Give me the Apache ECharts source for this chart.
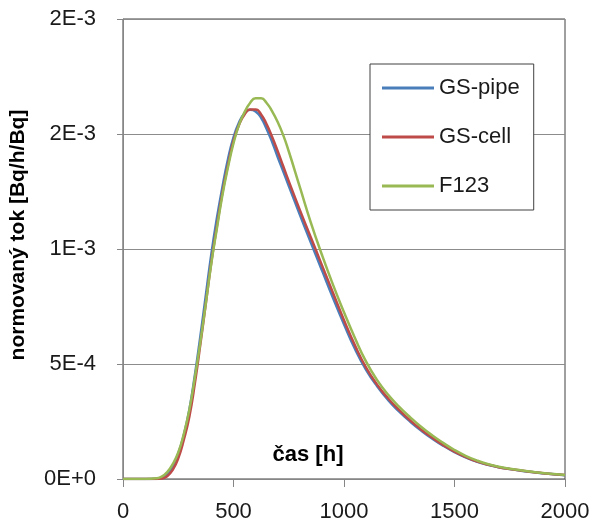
<!DOCTYPE html>
<html>
<head>
<meta charset="utf-8">
<script src="https://cdn.jsdelivr.net/npm/echarts@6/dist/echarts.min.js"></script>
<style>
html,body{margin:0;padding:0;background:#fff}
#container{width:600px;height:526px}
</style>
</head>
<body>
<div id="container"></div>
<script>
// time axis [h] (denser around the peak)
var hours = [0,50,100,150,175,200,225,250,275,300,325,350,375,400,425,450,475,500,525,550,575,600,625,650,675,700,725,750,
  800,850,900,950,1000,1050,1100,1150,1200,1250,1300,1350,1400,1450,1500,1550,1600,1650,1700,1750,1800,1850,1900,1950,2000];

// normovany tok, in units of 1E-4 Bq/h/Bq
var gsPipe = [0,0,0,0.01,0.06,0.2,0.55,1.1,1.9,3.0,4.5,6.2,8.0,9.8,11.35,12.7,13.9,14.85,15.5,15.9,16.05,15.98,15.7,15.22,14.65,14.0,13.38,12.75,
  11.5,10.28,9.08,7.88,6.73,5.65,4.75,4.03,3.43,2.93,2.49,2.1,1.75,1.44,1.17,0.94,0.76,0.62,0.51,0.43,0.36,0.3,0.25,0.205,0.165];
var gsCell = [0,0,0,0,0.02,0.12,0.4,0.9,1.7,2.7,4.15,5.85,7.65,9.45,11.0,12.45,13.65,14.7,15.4,15.85,16.06,16.06,15.85,15.42,14.87,14.25,13.6,12.95,
  11.7,10.5,9.3,8.1,6.9,5.8,4.84,4.1,3.5,2.99,2.54,2.14,1.79,1.47,1.19,0.96,0.77,0.63,0.515,0.435,0.365,0.305,0.255,0.21,0.17];
var f123 = [0,0,0,0.03,0.1,0.3,0.65,1.15,1.95,3.0,4.4,5.95,7.65,9.4,10.9,12.35,13.55,14.6,15.4,15.95,16.35,16.55,16.55,16.35,15.98,15.52,14.95,14.25,
  12.7,11.15,9.75,8.45,7.25,6.12,5.1,4.3,3.66,3.14,2.68,2.26,1.89,1.56,1.26,1.01,0.81,0.65,0.535,0.45,0.38,0.315,0.26,0.215,0.175];
var valueUnit = 1e-4;

var seriesNames = ['GS-pipe','GS-cell','F123'];
var xTickLabels = ['0','500','1000','1500','2000'];
var yTickLabels = ['0E+0','5E-4','1E-3','2E-3','2E-3'];

function pairs(vals){
  return hours.map(function(h,i){ return [h, vals[i] * valueUnit]; });
}

var FONT = 'Liberation Sans';

var dom = document.getElementById("container");
var myChart = echarts.init(dom);
var option = {
    animation: false,
    textStyle: { fontFamily: FONT },
    grid: {
        left: 122, right: 35, top: 19, bottom: 47,
        show: true, borderColor: '#404040', borderWidth: 1
    },
    legend: {
        orient: 'vertical',
        left: 370, top: 64,
        padding: [13, 14, 13, 12],
        icon: 'rect',
        itemWidth: 52, itemHeight: 3, itemGap: 27,
        backgroundColor: '#fff',
        borderColor: '#404040', borderWidth: 1, borderRadius: 0,
        textStyle: { fontFamily: FONT, fontSize: 22, color: '#1a1a1a', lineHeight: 22 },
        data: seriesNames
    },
    xAxis: {
        type: 'value',
        min: 0, max: 2000, interval: 500,
        name: 'čas [h]',
        nameLocation: 'middle',
        nameGap: -35,
        nameTextStyle: { fontFamily: FONT, fontSize: 22, fontWeight: 'bold', color: '#000', padding: [0, 72, 0, 0] },
        axisLine: { lineStyle: { color: '#868686' } },
        axisTick: { show: true, length: 8, lineStyle: { color: '#868686' } },
        axisLabel: {
            fontFamily: FONT, fontSize: 22, color: '#1a1a1a', margin: 22,
            formatter: function(v, i){ return xTickLabels[i]; }
        },
        splitLine: { show: false }
    },
    yAxis: {
        type: 'value',
        min: 0, max: 0.002, interval: 0.0005,
        name: 'normovaný tok [Bq/h/Bq]',
        nameLocation: 'middle',
        nameGap: 94,
        nameRotate: 90,
        nameTextStyle: { fontFamily: FONT, fontSize: 21, fontWeight: 'bold', color: '#000', padding: [0, 0, 0, 28] },
        axisLine: { show: true, lineStyle: { color: '#868686' } },
        axisTick: { show: true, length: 6, lineStyle: { color: '#868686' } },
        axisLabel: {
            fontFamily: FONT, fontSize: 22, color: '#1a1a1a', margin: 27,
            formatter: function(v, i){ return yTickLabels[i]; }
        },
        splitLine: { show: true, lineStyle: { color: '#8c8c8c', width: 1 } }
    },
    series: [
        { name: seriesNames[0], type: 'line', data: pairs(gsPipe), symbol: 'none', smooth: 0.5,
          lineStyle: { color: '#4a7ebb', width: 2.5 }, itemStyle: { color: '#4a7ebb' } },
        { name: seriesNames[1], type: 'line', data: pairs(gsCell), symbol: 'none', smooth: 0.5,
          lineStyle: { color: '#be4b48', width: 2.5 }, itemStyle: { color: '#be4b48' } },
        { name: seriesNames[2], type: 'line', data: pairs(f123), symbol: 'none', smooth: 0.5,
          lineStyle: { color: '#98b954', width: 2.5 }, itemStyle: { color: '#98b954' } }
    ]
};
myChart.setOption(option);
</script>
</body>
</html>
